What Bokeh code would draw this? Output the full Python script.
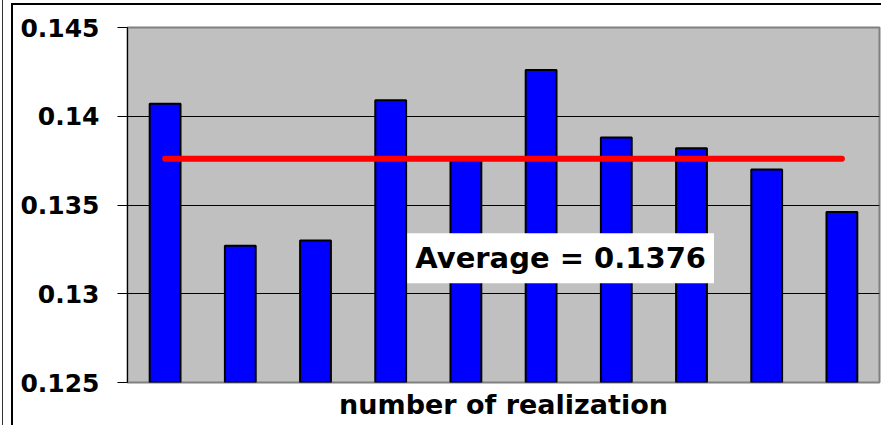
from bokeh.plotting import figure
from bokeh.models import (Range1d, FixedTicker, NumeralTickFormatter, Label,
                          ColumnDataSource, InlineStyleSheet)
from bokeh.embed import file_html
from bokeh.resources import INLINE

# Values per realization
realizations = [1, 2, 3, 4, 5, 6, 7, 8, 9, 10]
values = [0.1407, 0.1327, 0.1330, 0.1409, 0.1375, 0.1426, 0.1388, 0.1382, 0.1370, 0.1346]
average = 0.1376
y_ticks = [0.125, 0.13, 0.135, 0.14, 0.145]
x_title = "number of realization"

FONT = "DejaVu Sans"

# Outer chart frame drawn with CSS pseudo-elements on the figure host
frame_css = InlineStyleSheet(css="""
:host { position: relative; }
:host::before {
  content: ""; position: absolute; left: 2px; top: 0px; width: 1px; height: 100%;
  background: #333333; pointer-events: none; z-index: 10;
}
:host::after {
  content: ""; position: absolute; left: 11px; top: 3px; width: 900px; height: 600px;
  border-left: 2px solid black; border-top: 2px solid black;
  pointer-events: none; z-index: 10;
}
""")

p = figure(width=881, height=425, output_backend="svg", toolbar_location=None,
           x_range=Range1d(0.5, 10.5), y_range=Range1d(0.125, 0.145),
           min_border_left=127, min_border_right=2, min_border_top=27,
           min_border_bottom=43, stylesheets=[frame_css])

p.background_fill_color = "#c0c0c0"
p.border_fill_color = "white"
p.outline_line_color = "#808080"
p.outline_line_width = 2

# Gridlines
p.xgrid.grid_line_color = None
p.ygrid.grid_line_color = "black"
p.ygrid.grid_line_width = 1
p.ygrid.ticker = FixedTicker(ticks=y_ticks)

# Y axis
p.yaxis.ticker = FixedTicker(ticks=y_ticks)
p.yaxis.formatter = NumeralTickFormatter(format="0.[000]")
p.yaxis.major_label_text_font = FONT
p.yaxis.major_label_text_font_style = "bold"
p.yaxis.major_label_text_font_size = "25px"
p.yaxis.major_label_text_color = "black"
p.yaxis.major_label_standoff = 18
p.yaxis.major_tick_out = 10
p.yaxis.major_tick_in = 0
p.yaxis.major_tick_line_color = "black"
p.yaxis.minor_tick_line_color = None
p.yaxis.axis_line_color = "black"

# X axis: title only
p.xaxis.ticker = FixedTicker(ticks=[])
p.xaxis.major_tick_line_color = None
p.xaxis.minor_tick_line_color = None
p.xaxis.axis_line_color = None
p.xaxis.axis_label = x_title
p.xaxis.axis_label_text_font = FONT
p.xaxis.axis_label_text_font_style = "bold"
p.xaxis.axis_label_text_font_size = "27px"
p.xaxis.axis_label_text_color = "black"
p.xaxis.axis_label_standoff = 6

# Bars
src = ColumnDataSource(data=dict(x=realizations, top=values))
p.vbar(x="x", top="top", bottom=0.125, width=0.41, source=src,
       fill_color="#0000ff", line_color="black", line_width=2)

# Average line
p.line(x=[realizations[0], realizations[-1]], y=[average, average],
       line_color="red", line_width=6, line_cap="round")

# Average label
p.add_layout(Label(x=6.26, y=0.1320, text=f"Average = {average}",
                   text_align="center", text_baseline="middle",
                   text_font=FONT, text_font_style="bold",
                   text_font_size="29px", text_color="black",
                   background_fill_color="white", padding=8))

open("out.html", "w").write(file_html(p, INLINE))
